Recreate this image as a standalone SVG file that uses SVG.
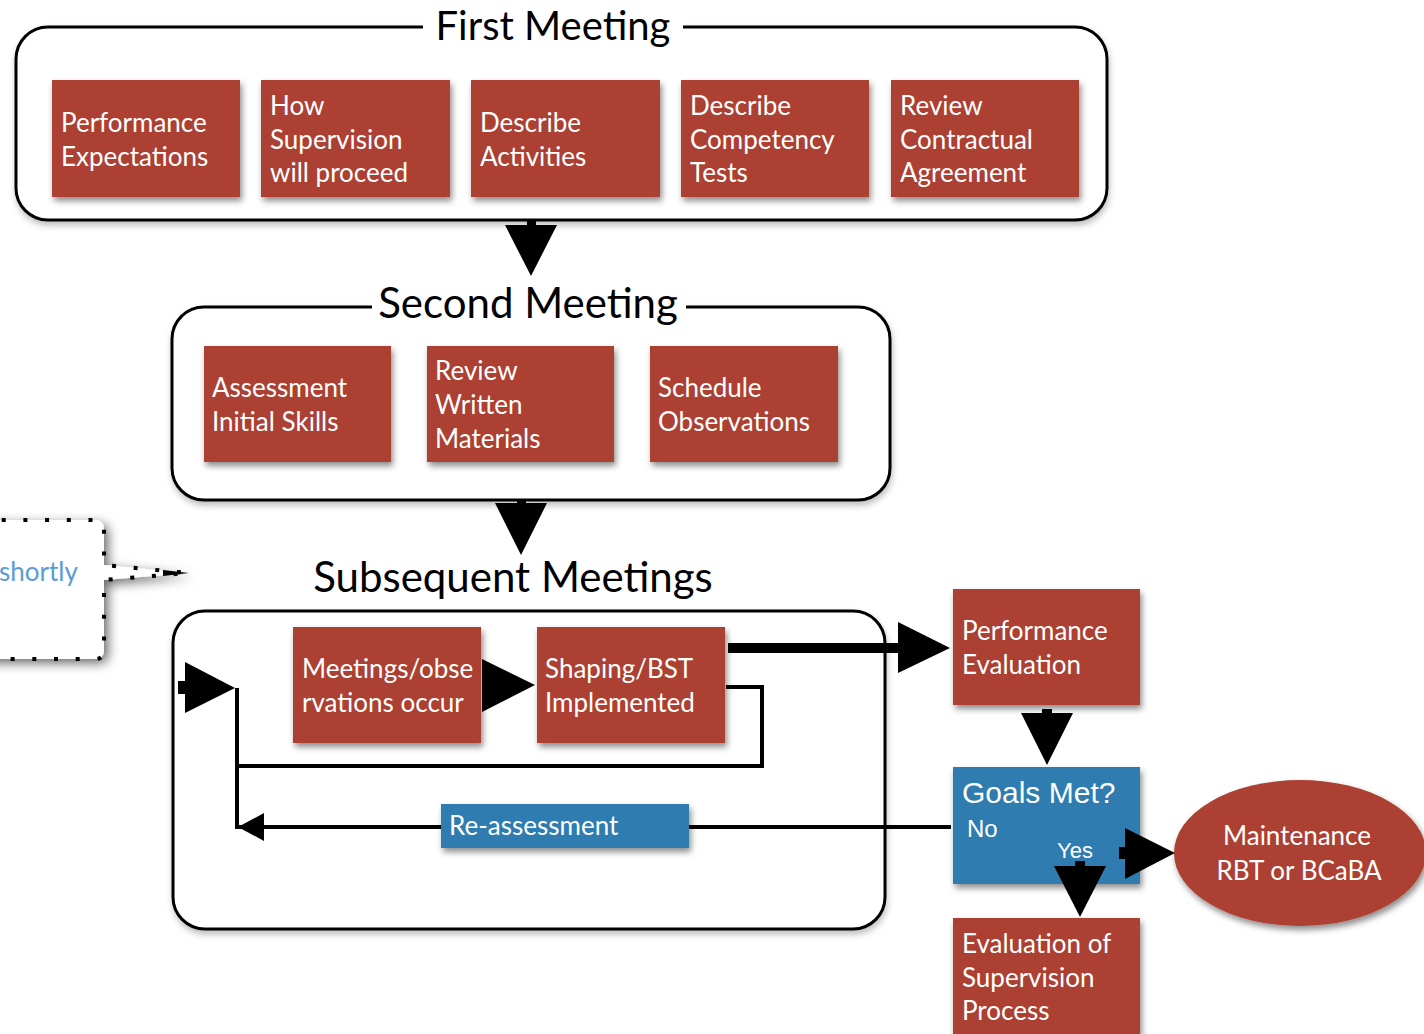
<svg xmlns="http://www.w3.org/2000/svg" width="1424" height="1034" viewBox="0 0 1424 1034">
<defs>
<filter id="sh" x="-10%" y="-10%" width="130%" height="140%"><feDropShadow dx="2" dy="4" stdDeviation="3" flood-color="#000" flood-opacity="0.45"/></filter>
<filter id="csh" x="-5%" y="-10%" width="110%" height="130%"><feDropShadow dx="1" dy="4" stdDeviation="3" flood-color="#000" flood-opacity="0.25"/></filter>
<filter id="callsh" x="-30%" y="-30%" width="160%" height="160%"><feDropShadow dx="4" dy="4" stdDeviation="6" flood-color="#000" flood-opacity="0.6"/></filter>
</defs>
<style>
.cont{fill:#fff;stroke:#000;stroke-width:3}
.red{fill:#AC4132}
.blue{fill:#2E7BB0}
.t{font-family:Lato,"Open Sans",sans-serif;font-size:26px;fill:#fff}
.title{font-family:Lato,"Open Sans",sans-serif;font-size:42px;fill:#000}
.a{font-family:"Liberation Sans",Arial,sans-serif;fill:#fff}
.ln{fill:none;stroke:#000;stroke-width:4}
.ah{fill:#000}
</style>
<rect width="1424" height="1034" fill="#fff"/>

<!-- callout -->
<g id="callout">
<path d="M-20,520 H95 Q104,520 104,529 V565 L188,573 L104,580 V650 Q104,659 95,659 H-20 Z" fill="#fff" filter="url(#callsh)"/>
<path d="M-20,520 H95 Q104,520 104,529 V565 L188,573 L104,580 V650 Q104,659 95,659 H-20" fill="none" stroke="#000" stroke-width="4" stroke-dasharray="4 17.7"/>
<polygon points="163,570 189,573 163,576" fill="#000"/>
<text x="-1" y="581" font-family="Lato,'Open Sans',sans-serif" font-size="26" fill="#5B9BD5">shortly</text>
</g>

<!-- First Meeting -->
<g id="first-meeting">
<rect class="cont" x="16" y="27" width="1091" height="193" rx="32" filter="url(#csh)"/>
<rect x="423" y="18" width="260" height="20" fill="#fff"/>
<text class="title" x="553" y="40" text-anchor="middle" style="font-size:40px">First Meeting</text>
</g>
<g id="n-perf-exp"><rect class="red" x="52" y="80" width="188" height="117" filter="url(#sh)"/>
<text class="t" x="61" y="132">Performance</text><text class="t" x="61" y="166">Expectations</text></g>
<g id="n-how-sup"><rect class="red" x="261" y="80" width="189" height="117" filter="url(#sh)"/>
<text class="t" x="270" y="115">How</text><text class="t" x="270" y="149">Supervision</text><text class="t" x="270" y="182">will proceed</text></g>
<g id="n-desc-act"><rect class="red" x="471" y="80" width="189" height="117" filter="url(#sh)"/>
<text class="t" x="480" y="132">Describe</text><text class="t" x="480" y="166">Activities</text></g>
<g id="n-desc-comp"><rect class="red" x="681" y="80" width="188" height="117" filter="url(#sh)"/>
<text class="t" x="690" y="115">Describe</text><text class="t" x="690" y="149">Competency</text><text class="t" x="690" y="182">Tests</text></g>
<g id="n-review-contract"><rect class="red" x="891" y="80" width="188" height="117" filter="url(#sh)"/>
<text class="t" x="900" y="115">Review</text><text class="t" x="900" y="149">Contractual</text><text class="t" x="900" y="182">Agreement</text></g>

<!-- Second Meeting -->
<g id="second-meeting">
<rect class="cont" x="172" y="307" width="718" height="193" rx="32" filter="url(#csh)"/>
<rect x="372" y="298" width="314" height="20" fill="#fff"/>
<text class="title" x="528" y="318" text-anchor="middle">Second Meeting</text>
</g>
<g id="n-assess"><rect class="red" x="204" y="346" width="187" height="116" filter="url(#sh)"/>
<text class="t" x="212" y="397">Assessment</text><text class="t" x="212" y="431">Initial Skills</text></g>
<g id="n-review-written"><rect class="red" x="427" y="346" width="187" height="116" filter="url(#sh)"/>
<text class="t" x="435" y="380">Review</text><text class="t" x="435" y="414">Written</text><text class="t" x="435" y="448">Materials</text></g>
<g id="n-schedule"><rect class="red" x="650" y="346" width="188" height="116" filter="url(#sh)"/>
<text class="t" x="658" y="397">Schedule</text><text class="t" x="658" y="431">Observations</text></g>

<!-- Subsequent Meetings -->
<g id="subsequent-meetings">
<rect class="cont" x="173" y="611" width="712" height="318" rx="32" filter="url(#csh)"/>
<text class="title" x="513" y="592" text-anchor="middle">Subsequent Meetings</text>
</g>
<g id="n-meet-obs"><rect class="red" x="293" y="627" width="188" height="116" filter="url(#sh)"/>
<text class="t" x="302" y="678">Meetings/obse</text><text class="t" x="302" y="712">rvations occur</text></g>
<g id="n-shaping"><rect class="red" x="537" y="627" width="188" height="116" filter="url(#sh)"/>
<text class="t" x="545" y="678">Shaping/BST</text><text class="t" x="545" y="712">Implemented</text></g>

<g id="n-perf-eval"><rect class="red" x="953" y="589" width="187" height="116" filter="url(#sh)"/>
<text class="t" x="962" y="640">Performance</text><text class="t" x="962" y="674">Evaluation</text></g>

<g id="n-goals"><rect class="blue" x="953" y="767" width="187" height="117" filter="url(#sh)"/>
<text class="a" x="962" y="803" font-size="30">Goals Met?</text>
<text class="a" x="967" y="837" font-size="24">No</text>
<text class="a" x="1057" y="858" font-size="22">Yes</text></g>

<g id="n-eval-sup"><rect class="red" x="953" y="918" width="187" height="130" filter="url(#sh)"/>
<text class="t" x="962" y="953">Evaluation of</text><text class="t" x="962" y="987">Supervision</text><text class="t" x="962" y="1020">Process</text></g>

<g id="n-maint"><ellipse class="red" cx="1300" cy="853" rx="126" ry="73" filter="url(#sh)"/>
<text class="t" x="1297" y="845" text-anchor="middle">Maintenance</text>
<text class="t" x="1299" y="880" text-anchor="middle">RBT or BCaBA</text></g>

<!-- connectors -->
<g id="connectors">
<rect class="ah" x="527" y="219" width="9" height="7"/>
<polygon class="ah" points="505,225 557,225 531,276"/>
<rect class="ah" x="517" y="499" width="9" height="5"/>
<polygon class="ah" points="495,503 547,503 521,555"/>
<polygon class="ah" points="482,659 535,685 482,712"/>
<path class="ln" d="M726,687 H762 V766 H237 V688"/>
<rect class="ah" x="178" y="681" width="8" height="13"/>
<polygon class="ah" points="185,662 235,688 185,713"/>
<path class="ln" d="M237,766 V827 H951"/>
<polygon class="ah" points="264,813 238,827 264,841"/>
<line x1="728" y1="648" x2="900" y2="648" stroke="#000" stroke-width="10"/>
<polygon class="ah" points="898,622 950,648 898,673"/>
<rect class="ah" x="1042" y="709" width="10" height="5"/>
<polygon class="ah" points="1021,713 1073,713 1047,765"/>
<rect class="ah" x="1119" y="847" width="8" height="12"/>
<polygon class="ah" points="1125,828 1175,853 1125,879"/>
<rect class="ah" x="1075" y="861" width="10" height="6"/>
<polygon class="ah" points="1054,866 1106,866 1080,917"/>
</g>

<g id="n-reassess"><rect class="blue" x="441" y="804" width="248" height="44" filter="url(#sh)"/>
<text class="t" x="449" y="835">Re-assessment</text></g>
</svg>
